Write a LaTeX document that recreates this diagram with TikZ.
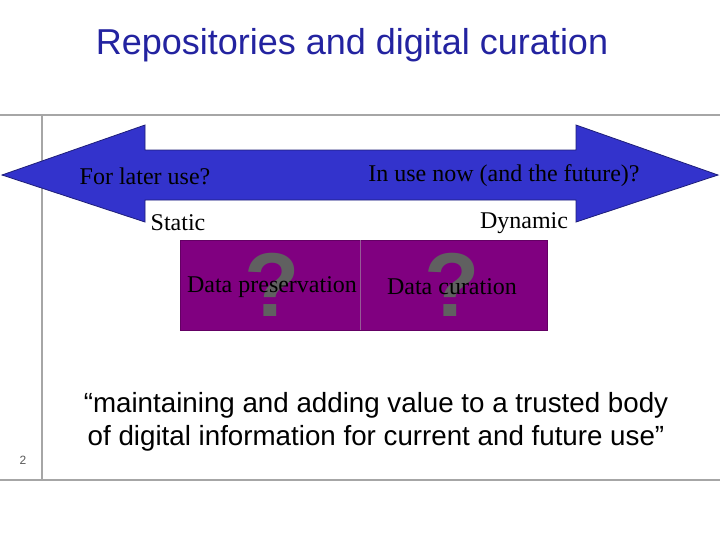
\documentclass[tikz,border=0pt]{standalone}
\usepackage{fontspec}
\setmainfont{Liberation Serif}
\setsansfont{Liberation Sans}
\begin{document}
\begin{tikzpicture}[x=0.75pt,y=-0.75pt,
  rule/.style={draw=gray!70,line width=0.8pt},
  lbl/.style={font=\fontsize{18}{20}\selectfont,inner sep=0pt},
  qm/.style={font=\sffamily\bfseries\fontsize{68}{68}\selectfont,text=gray!75!black,inner sep=0pt}]
\useasboundingbox (0,0) rectangle (720,540);
\node[font=\sffamily\fontsize{27}{30}\selectfont,text={rgb,255:red,35;green,35;blue,160}] (title) at (352,45) {Repositories and digital curation};
\draw[rule] (0,115) -- (720,115);
\draw[rule] (42,115) -- (42,480);
\draw[rule] (0,480) -- (720,480);
\draw[fill={rgb,255:red,51;green,51;blue,204},draw={rgb,255:red,30;green,30;blue,120},line width=0.6pt]
 (2,175) -- (145,125) -- (145,150) -- (576,150) -- (576,125) -- (718,175) -- (576,222) -- (576,200) -- (145,200) -- (145,222) -- cycle;
\node[lbl] (later) at (145,176) {For later use?};
\node[lbl] (now) at (504,176) {In use now (and the future)?};
\node[lbl] (static) at (178,223) {Static};
\node[lbl] (dyn) at (524,223) {Dynamic};
\draw[fill={rgb,255:red,128;green,0;blue,128},draw={rgb,255:red,100;green,0;blue,100}] (180,240) rectangle (547,330);
\draw[draw={rgb,255:red,150;green,90;blue,150}] (360,240) -- (360,330);
\node[qm] (q1) at (272,285) {?};
\node[qm] (q2) at (452,285) {?};
\node[lbl] (pres) at (272,287) {Data preservation};
\node[lbl] (cur) at (452,287) {Data curation};
\node[font=\sffamily\fontsize{20.8}{24.5}\selectfont,align=center,inner sep=0pt] (quote) at (376,422)
 {“maintaining and adding value to a trusted body\\of digital information for current and future use”};
\node[font=\sffamily\fontsize{9}{10}\selectfont,text=gray!70!black] (num) at (23,460) {2};
\end{tikzpicture}
\end{document}
